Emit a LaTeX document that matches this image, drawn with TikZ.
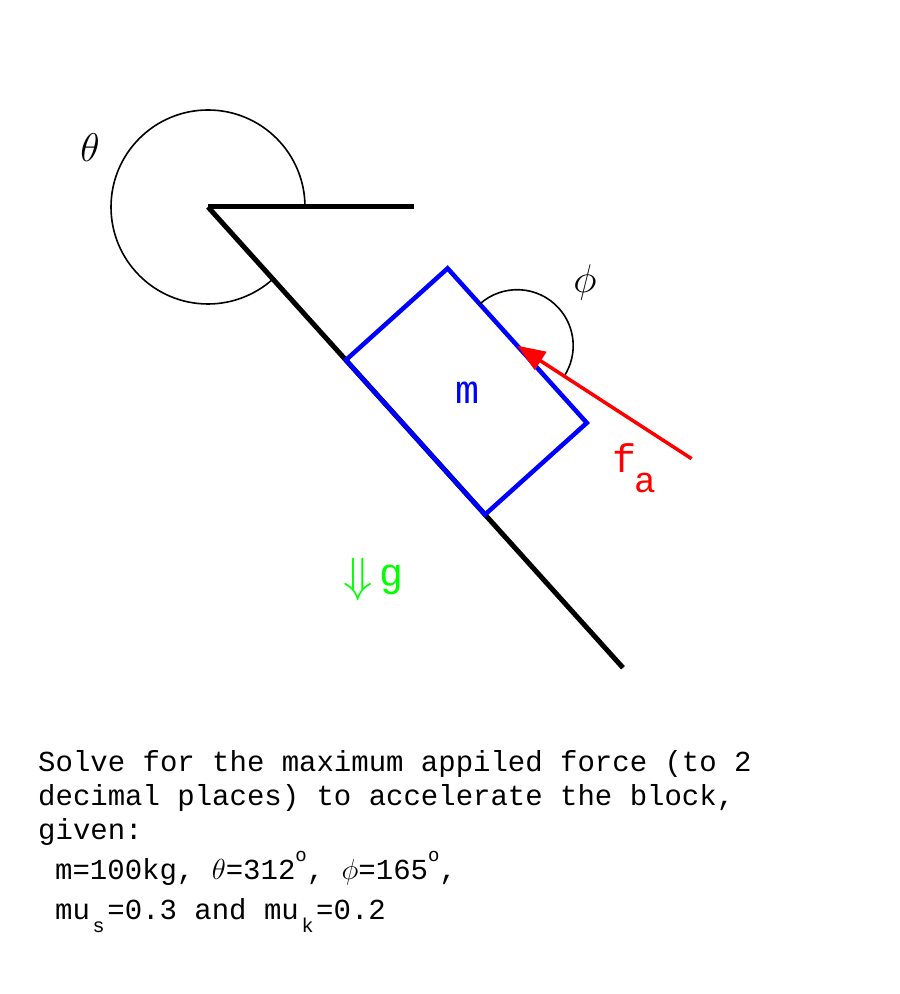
\RequirePackage{fix-cm}
\documentclass[tikz,border=0pt]{standalone}
\usepackage{fontspec}
\newfontfamily\monofont{Liberation Mono}
\usetikzlibrary{arrows.meta}
\definecolor{pblue}{RGB}{0,0,255}
\definecolor{pred}{RGB}{255,0,0}
\definecolor{pgreen}{RGB}{0,255,0}
\tikzset{
  incline/.style={line width=5pt, black},
  blockline/.style={line width=4.5pt, pblue, line join=miter},
  anglearc/.style={line width=1.6pt, black},
  force/.style={line width=3.5pt, pred, -{Triangle[length=28pt,width=21pt]}},
  biglabel/.style={inner sep=0pt, font=\monofont\fontsize{40}{40}\selectfont},
  mathlabel/.style={inner sep=0pt, font=\fontsize{40}{40}\selectfont},
  textline/.style={inner sep=0pt, anchor=base west, font=\monofont\fontsize{29}{34}\selectfont},
}
\newcommand{\subtxt}[1]{\raisebox{-12pt}{\makebox[17.4pt]{\fontsize{20}{20}\selectfont #1}}}
\newcommand{\degtxt}{\raisebox{18pt}{\fontsize{19}{19}\selectfont o}}
\begin{document}
\begin{tikzpicture}[x=1pt,y=1pt]
\useasboundingbox (0,0) rectangle (900,994);
% geometry
\coordinate (O) at (208,787);
\coordinate (H) at (414,787);
\coordinate (E) at (623,326.2);
\coordinate (A) at (345.8,633.9);
\coordinate (B) at (447.6,725.6);
\coordinate (C) at (586.8,571.1);
\coordinate (D) at (485,479.4);
\coordinate (P) at (517.2,648.3);
\coordinate (T) at (691.6,535.3);
% incline
\draw[incline] (O) -- (H);
\draw[incline] (O) -- (E);
% theta arc
\draw[anglearc] (O) ++(0:97) arc[start angle=0, end angle=312, radius=97];
% block
\draw[blockline] (A) -- (B) -- (C) -- (D) -- cycle;
% phi arc
\draw[anglearc] (P) ++(132:56) arc[start angle=132, end angle=-33, radius=56];
% force
\draw[force] (T) -- (P);
% labels
\node[mathlabel] (theta) at (90,846) {$\theta$};
\node[mathlabel] (phi) at (585,711) {$\phi$};
\node[biglabel, text=pblue] (mass) at (467,601) {m};
\node[biglabel, text=pred, anchor=base west] (fa) at (612,521) {f\hspace{-2pt}\raisebox{-20pt}{\fontsize{36}{36}\selectfont a}};
\node[inner sep=0pt, text=pgreen, font=\fontsize{48}{48}\selectfont] (garrow) at (358,414) {$\Downarrow$};
\node[biglabel, text=pgreen, anchor=base west] (glabel) at (379,407) {g};
% text
\node[textline] (l1) at (38,222) {Solve for the maximum appiled force (to 2};
\node[textline] (l2) at (38,188) {decimal places) to accelerate the block,};
\node[textline] (l3) at (38,154) {given:};
\node[textline] (l4) at (55,114) {m=100kg,\ $\theta$=312\degtxt,\ $\phi$=165\degtxt,};
\node[textline] (l5) at (55,74) {mu\subtxt{s}=0.3 and mu\subtxt{k}=0.2};
\end{tikzpicture}
\end{document}
